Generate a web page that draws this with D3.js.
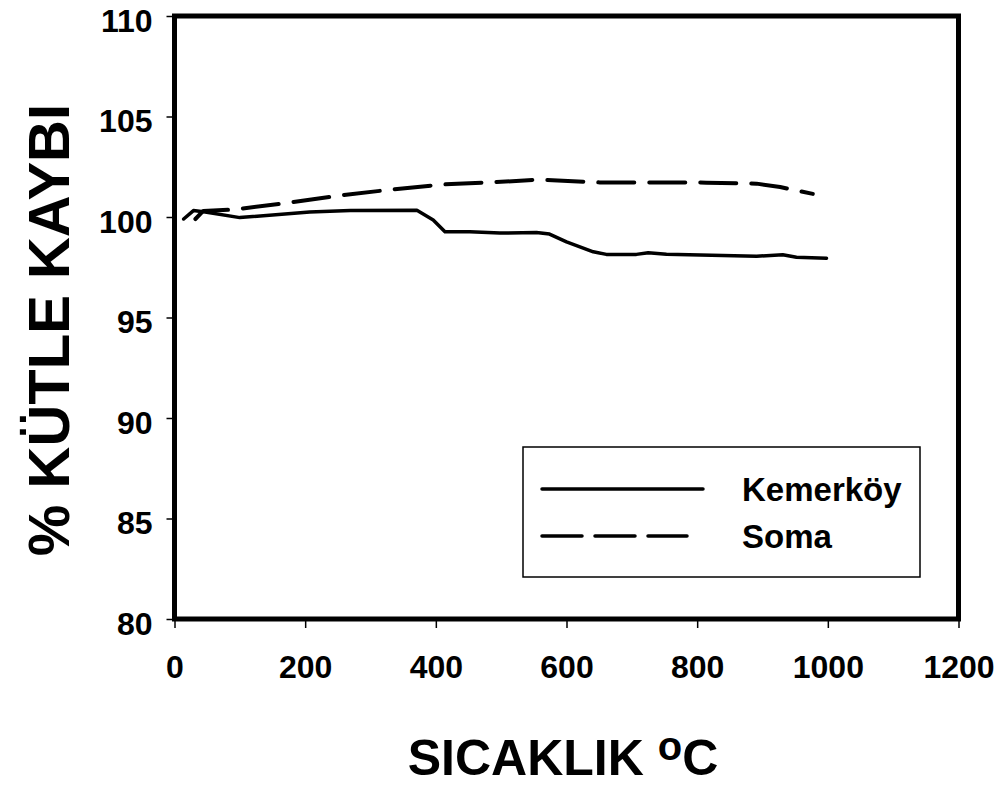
<!DOCTYPE html>
<html>
<head>
<meta charset="utf-8">
<script src="https://cdn.jsdelivr.net/npm/d3@7"></script>
<style>
  html, body { margin: 0; padding: 0; background: #fff; }
  svg { display: block; font-family: "Liberation Sans", Arial, sans-serif; font-weight: bold; }
</style>
</head>
<body>
<svg id="chart" width="1000" height="785"></svg>
<script>
// Mass change (%) against temperature (°C) for two coal samples
const kemerTemp = [14, 29, 47, 100, 207, 269, 371, 396, 414, 452, 498, 554, 574, 600, 641, 661, 707, 725, 753, 891, 931, 952, 998];
const kemerMass = [99.9, 100.32, 100.25, 99.97, 100.25, 100.32, 100.33, 99.85, 99.27, 99.27, 99.2, 99.23, 99.15, 98.76, 98.27, 98.14, 98.14, 98.22, 98.15, 98.05, 98.12, 98.0, 97.95];

const somaTemp = [32, 44, 90, 166, 248, 330, 411, 493, 559, 651, 732, 814, 891, 927, 977];
const somaMass = [99.9, 100.3, 100.37, 100.67, 101.05, 101.36, 101.62, 101.74, 101.86, 101.72, 101.72, 101.71, 101.66, 101.49, 101.15];

const xTicks = [0, 200, 400, 600, 800, 1000, 1200];
const yTicks = [80, 85, 90, 95, 100, 105, 110];

const seriesNames = ["Kemerköy", "Soma"];

const svg = d3.select("#chart");

const x = d3.scaleLinear().domain([0, 1200]).range([174.5, 958.5]);
const y = d3.scaleLinear().domain([80, 110]).range([619, 16]);

// Axes
const yAxis = svg.append("g")
  .attr("transform", `translate(${x(0)},0)`)
  .call(d3.axisLeft(y).tickValues(yTicks).tickSize(8).tickPadding(14).tickFormat(d3.format("d")));
const xAxis = svg.append("g")
  .attr("transform", `translate(0,${y(80)})`)
  .call(d3.axisBottom(x).tickValues(xTicks).tickSize(9).tickPadding(27).tickFormat(d3.format("d")));

[yAxis, xAxis].forEach(g => {
  g.select(".domain").remove();
  g.selectAll(".tick line").attr("stroke", "#000").attr("stroke-width", 1.5);
  g.selectAll(".tick text")
    .attr("fill", "#000")
    .style("font-family", '"Liberation Sans", Arial, sans-serif')
    .style("font-weight", "bold")
    .style("font-size", "32px");
});
yAxis.selectAll(".tick text").attr("dy", "0.47em");

// Plot frame
svg.append("rect")
  .attr("x", x(0)).attr("y", y(110))
  .attr("width", x(1200) - x(0)).attr("height", y(80) - y(110))
  .attr("fill", "none").attr("stroke", "#000").attr("stroke-width", 5);

// Series lines
const line = d3.line().x(d => x(d[0])).y(d => y(d[1]));
const kemer = kemerTemp.map((t, i) => [t, kemerMass[i]]);
const soma = somaTemp.map((t, i) => [t, somaMass[i]]);

svg.append("path").datum(kemer)
  .attr("d", line)
  .attr("fill", "none").attr("stroke", "#000").attr("stroke-width", 3.5)
  .attr("stroke-linejoin", "round").attr("stroke-linecap", "round");

svg.append("path").datum(soma)
  .attr("d", line)
  .attr("fill", "none").attr("stroke", "#000").attr("stroke-width", 4)
  .attr("stroke-dasharray", "36,15")
  .attr("stroke-linejoin", "round").attr("stroke-linecap", "round");

// Legend
const legend = svg.append("g");
legend.append("rect")
  .attr("x", 523).attr("y", 447).attr("width", 397).attr("height", 130)
  .attr("fill", "#fff").attr("stroke", "#000").attr("stroke-width", 1.5);

const legendRows = [
  { name: seriesNames[0], dash: null, y: 489, x2: 703 },
  { name: seriesNames[1], dash: "40,13", y: 536, x2: 687 }
];
legendRows.forEach(r => {
  legend.append("line")
    .attr("x1", 542).attr("x2", r.x2).attr("y1", r.y).attr("y2", r.y)
    .attr("stroke", "#000").attr("stroke-width", 3.5)
    .attr("stroke-linecap", "round")
    .attr("stroke-dasharray", r.dash);
  legend.append("text")
    .attr("x", 742).attr("y", r.y + 12)
    .style("font-size", "33px")
    .text(r.name);
});

// Axis titles
const xt = svg.append("text")
  .attr("x", 563).attr("y", 775)
  .attr("text-anchor", "middle")
  .style("font-size", "50px");
xt.append("tspan").text("SICAKLIK ");
xt.append("tspan").attr("baseline-shift", "15px").style("font-size", "40px").text("o");
xt.append("tspan").text("C");

svg.append("text")
  .attr("transform", "translate(69,330) rotate(-90)")
  .attr("text-anchor", "middle")
  .style("font-size", "58px")
  .text("% KÜTLE KAYBI");
</script>
</body>
</html>
